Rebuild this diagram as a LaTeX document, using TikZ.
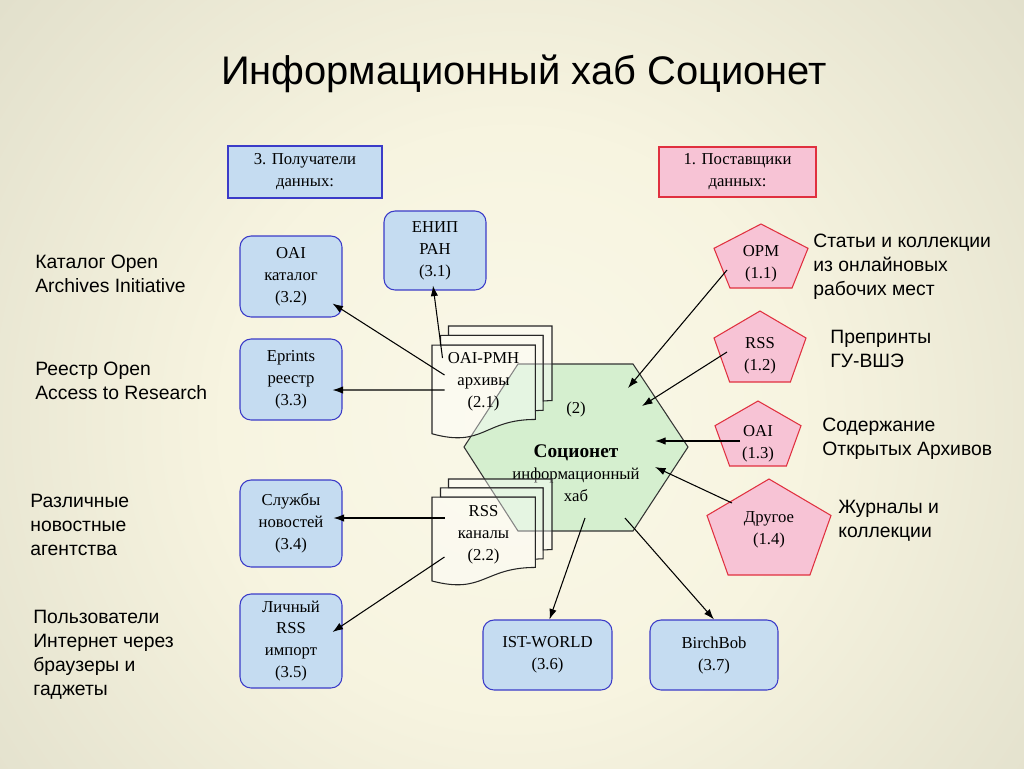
\documentclass[tikz,border=0pt]{standalone}
\usepackage{fontspec}
\setmainfont{Liberation Serif}
\setsansfont{Liberation Sans}
\usepackage{tikz}
\usetikzlibrary{shapes,backgrounds,arrows.meta,positioning,calc}
\usepackage{xcolor}
\definecolor{boxblue}{HTML}{C5DCF1}
\definecolor{edgeblue}{HTML}{3B3BC8}
\definecolor{boxpink}{HTML}{F7C3D5}
\definecolor{edgered}{HTML}{E0303F}
\definecolor{hubgreen}{HTML}{D5EFCF}
\definecolor{bgcream}{HTML}{FAF8E8}
\definecolor{bgcreamb}{HTML}{F7F4E0}
\definecolor{bgmid}{HTML}{E0DECA}
\definecolor{bgedge}{HTML}{BDBDB0}
\definecolor{bgcorner}{HTML}{6C6C62}
\pgfdeclareradialshading{slidebg}{\pgfpoint{0bp}{0bp}}{color(0bp)=(bgcream); color(14bp)=(bgcreamb); color(34bp)=(bgmid); color(50bp)=(bgedge); color(64bp)=(bgcorner); color(71bp)=(bgcorner)}

% pentagon: centre x, top, bottom, half width
\newcommand{\pentagonat}[4]{%
  \draw[pentbox] (#1,#2) -- ({#1+#4},{#2+0.38*(#3-#2)}) -- ({#1+0.66*#4},#3)
    -- ({#1-0.66*#4},#3) -- ({#1-#4},{#2+0.38*(#3-#2)}) -- cycle;}
% stack of pages: left, top, width, height
\newcommand{\multidocat}[4]{%
  \begin{scope}[shift={(#1,#2)}, xscale=#3, yscale=#4]
    \draw[docpage] (0.1376,0.0840) -- (0.1376,0) -- (1,0) -- (1,0.6663)
      .. controls (0.9630,0.6663) and (0.9259,0.6698) .. (0.9259,0.6698) -- (0.9259,0.0840) -- cycle;
    \draw[docpage] (0.0709,0.1701) -- (0.0709,0.0840) -- (0.9259,0.0840) -- (0.9259,0.7524)
      .. controls (0.8934,0.7524) and (0.8609,0.7570) .. (0.8609,0.7570) -- (0.8609,0.1701) -- cycle;
    \draw[docpage] (0,0.1701) -- (0.8609,0.1701) -- (0.8609,0.8344)
      .. controls (0.4305,0.8344) and (0.4305,1.0899) .. (0,0.9621) -- cycle;
  \end{scope}}

\begin{document}
\begin{tikzpicture}[x=0.02cm, y=-0.02cm,
  boxfont/.style={font=\fontsize{9.5}{12.5}\selectfont},
  recvbox/.style={boxfont, draw=edgeblue, fill=boxblue, rounded corners=0.22cm, line width=0.6pt, align=center, inner sep=1pt},
  recvhead/.style={boxfont, draw=edgeblue, fill=boxblue, line width=0.6pt, align=center, inner sep=1pt},
  suphead/.style={boxfont, draw=edgered, fill=boxpink, line width=0.6pt, align=center, inner sep=1pt},
  pentbox/.style={draw=edgered, fill=boxpink, line width=0.6pt},
  hexbox/.style={draw=black!80, fill=hubgreen, line width=0.6pt},
  docpage/.style={draw=black!85, fill=white, fill opacity=0.4, line width=0.6pt},
  doctext/.style={boxfont, align=center, inner sep=0pt},
  sidetext/.style={font=\sffamily\fontsize{11}{13.6}\selectfont, align=left, anchor=north west, inner sep=0pt},
  arr/.style={-{Latex[length=6pt,width=4.2pt]}, line width=0.6pt}]
  \useasboundingbox (0,0) rectangle (1024,768);
  \begin{scope}
    \clip (0,0) rectangle (1024,768);
    \shade[shading=slidebg] (0,-92) rectangle (1024,932);
  \end{scope}

  \node[font=\sffamily\fontsize{22.7}{28}\selectfont, anchor=base] (title) at (524,84) {Информационный хаб Соционет};

  % headers
  \node[recvhead, minimum width=3.08cm, minimum height=1.04cm] (rcv) at (305,172) {3. Получатели\\данных:};
  \node[suphead, minimum width=3.14cm, minimum height=1.0cm] (sup) at (737.5,172) {1. Поставщики\\данных:};

  % hub
  \draw[hexbox] (464,447) -- (518,364) -- (633,364) -- (688,447) -- (633,531) -- (518,531) -- cycle;
  \coordinate (hub) at (576,447);
  \node[boxfont] (hubnum) at (576,409) {(2)};
  \node[boxfont, align=center] (hubname) at (576,473) {{\fontsize{11}{12}\selectfont\bfseries Соционет}\\информационный\\хаб};

  % archives and feeds
  \multidocat{432}{326}{120}{112}
  \multidocat{432}{479}{120}{106}
  \node[doctext] (oaipmh) at (483.5,382) {OAI-PMH\\архивы\\(2.1)};
  \node[doctext] (rsscan) at (483.5,535) {RSS\\каналы\\(2.2)};

  % receivers
  \node[recvbox, minimum width=2.04cm, minimum height=1.58cm] (enip) at (435,250.5) {ЕНИП\\РАН\\(3.1)};
  \node[recvbox, minimum width=2.04cm, minimum height=1.62cm] (oaicat) at (291,276.5) {OAI\\каталог\\(3.2)};
  \node[recvbox, minimum width=2.04cm, minimum height=1.62cm] (eprints) at (291,379.5) {Eprints\\реестр\\(3.3)};
  \node[recvbox, minimum width=2.04cm, minimum height=1.74cm] (news) at (291,523.5) {Службы\\новостей\\(3.4)};
  \node[recvbox, minimum width=2.04cm, minimum height=1.88cm] (rssimp) at (291,641) {Личный\\RSS\\импорт\\(3.5)};
  \node[recvbox, minimum width=2.58cm, minimum height=1.4cm] (istw) at (547.5,655) {IST-WORLD\\(3.6)};
  \node[recvbox, minimum width=2.56cm, minimum height=1.4cm] (birch) at (714,655) {BirchBob\\(3.7)};

  % suppliers
  \pentagonat{761}{224}{288}{47}
  \pentagonat{760}{311}{382}{46}
  \pentagonat{758}{401}{466}{43}
  \pentagonat{769}{479}{575}{62}
  \node[doctext] (opm) at (761,264) {OPM\\(1.1)};
  \node[doctext] (rss12) at (760,356) {RSS\\(1.2)};
  \node[doctext] (oai13) at (758,444) {OAI\\(1.3)};
  \node[doctext] (other) at (769,530) {Другое\\(1.4)};

  % captions
  \node[sidetext] (capoai) at (35,255) {Каталог Open\\Archives Initiative};
  \node[sidetext] (capreg) at (35,362) {Реестр Open\\Access to Research};
  \node[sidetext] (capnews) at (30,494) {Различные\\новостные\\агентства};
  \node[sidetext] (capusers) at (33,610) {Пользователи\\Интернет через\\браузеры и\\гаджеты};
  \node[sidetext] (capopm) at (813,234) {Статьи и коллекции\\из онлайновых\\рабочих мест};
  \node[sidetext] (caphse) at (830,330) {Препринты\\ГУ-ВШЭ};
  \node[sidetext] (caparch) at (822,418) {Содержание\\Открытых Архивов};
  \node[sidetext] (capjour) at (838,500) {Журналы и\\коллекции};

  % connectors
  \draw[arr] ($(oaipmh)+(-41,-24)$) -- ($(enip.south)+(-2,-5)$);
  \draw[arr] ($(oaipmh)+(-39,-7)$) -- ($(oaicat.south east)+(-10,-14)$);
  \draw[arr] ($(oaipmh)+(-39,8)$) -- ($(eprints.east)+(-10,10.5)$);
  \draw[arr] ($(rsscan)+(-39,-17)$) -- ($(news.east)+(-9,-5.5)$);
  \draw[arr] ($(rsscan)+(-39,22)$) -- ($(rssimp.east)+(-10,-9)$);
  \draw[arr] ($(hub)+(9,71)$) -- ($(istw.north)+(2,0)$);
  \draw[arr] ($(hub)+(49,71)$) -- (birch.north);
  \draw[arr] ($(opm)+(-34,6)$) -- ($(hub)+(52,-59)$);
  \draw[arr] ($(rss12)+(-33,-4)$) -- ($(hub)+(66,-41)$);
  \draw[arr] ($(oai13)+(-18,-3)$) -- ($(hub)+(79,-6)$);
  \draw[arr] ($(other)+(-37,-27)$) -- ($(hub)+(79,20)$);
\end{tikzpicture}
\end{document}
